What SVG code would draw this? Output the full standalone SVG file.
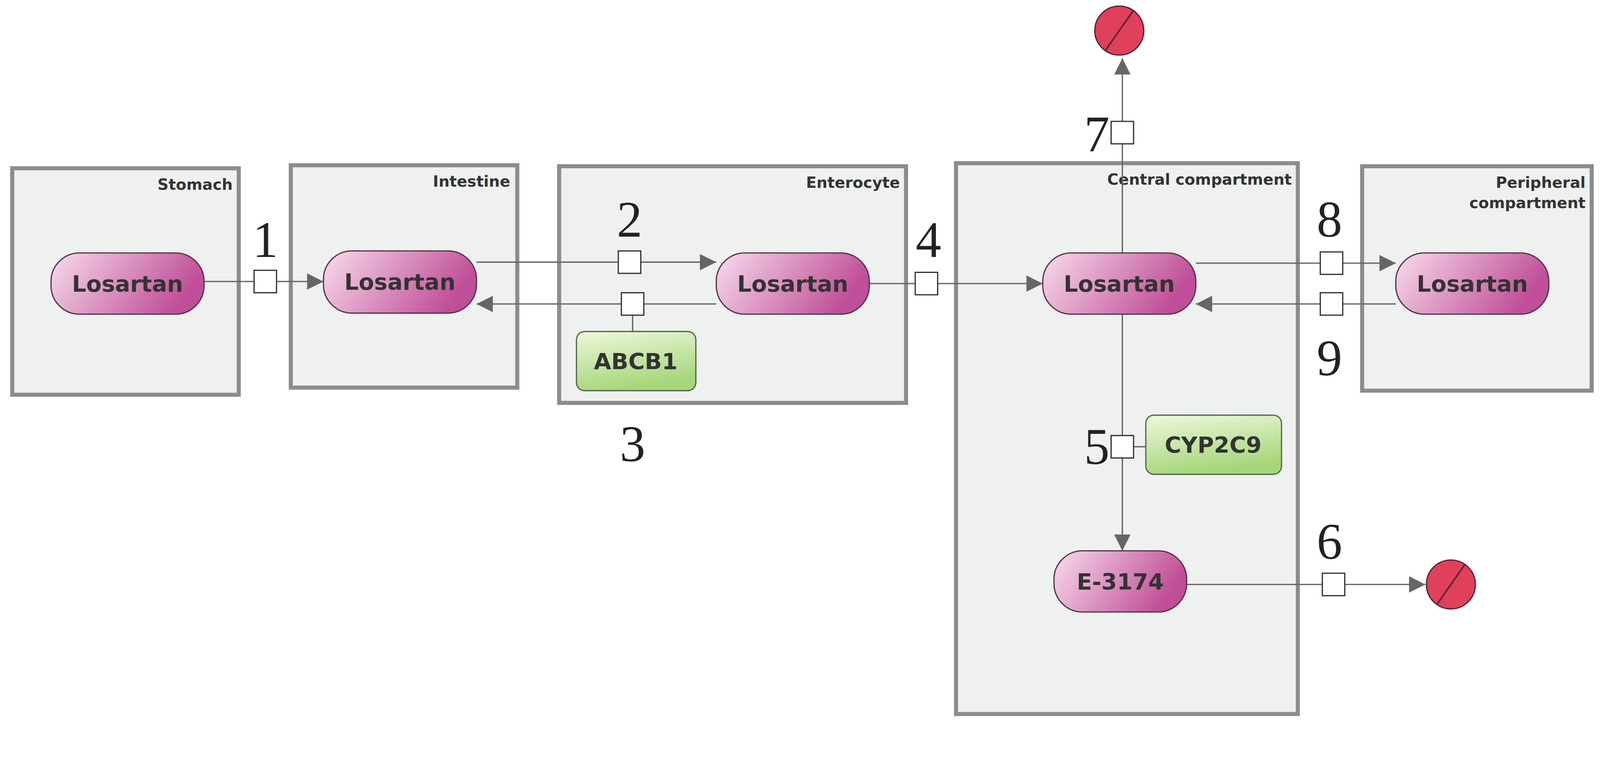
<svg xmlns="http://www.w3.org/2000/svg" width="4305" height="1959" viewBox="0 0 4305 1959">
<defs>
<linearGradient id="pk" x1="0" y1="0" x2="1" y2="0.3"><stop offset="0" stop-color="#f8dcec"/><stop offset="1" stop-color="#c04e98"/></linearGradient>
<linearGradient id="gr" x1="0" y1="0" x2="0.3" y2="1"><stop offset="0" stop-color="#eef8dc"/><stop offset="1" stop-color="#a6d67a"/></linearGradient>
<marker id="ar" viewBox="0 0 10 10" refX="10" refY="5" markerWidth="22" markerHeight="16" markerUnits="userSpaceOnUse" orient="auto"><path d="M0,0L10,5L0,10z" fill="#666"/></marker>
<style>
.comp{fill:#eff0f0;stroke:#8c8c8c;stroke-width:4}
.cl{font-family:"DejaVu Sans",sans-serif;font-weight:bold;font-size:15px;fill:#333;text-anchor:end}
.sp{fill:url(#pk);stroke:#553344;stroke-width:1.2}
.en{fill:url(#gr);stroke:#556644;stroke-width:1.2}
.nt{font-family:"DejaVu Sans",sans-serif;font-weight:bold;font-size:22px;fill:#333;text-anchor:middle}
.ln{stroke:#666;stroke-width:1.3;fill:none}
.ar{marker-end:url(#ar)}
.sq{fill:#fff;stroke:#333;stroke-width:1.2}
.num{font-family:"Liberation Serif",serif;font-size:50px;fill:#222;text-anchor:middle}
.dg{fill:#e0405a;stroke:#552233;stroke-width:1.2}
</style>
</defs>
<g transform="scale(2.612)">
<g id="stomach"><rect class="comp" x="12" y="165" width="222" height="222"/><text class="cl" x="228" y="186">Stomach</text></g>
<g id="intestine"><rect class="comp" x="285" y="162" width="222" height="218"/><text class="cl" x="500" y="183">Intestine</text></g>
<g id="enterocyte"><rect class="comp" x="548" y="163" width="340" height="232"/><text class="cl" x="882" y="184">Enterocyte</text></g>
<g id="central"><rect class="comp" x="937" y="160" width="335" height="540"/><text class="cl" x="1266" y="181">Central compartment</text></g>
<g id="peripheral"><rect class="comp" x="1335" y="163" width="225" height="220"/><text class="cl" x="1554" y="184">Peripheral</text><text class="cl" x="1554" y="204">compartment</text></g>

<g id="connectors">
<line class="ln ar" x1="200" y1="276" x2="317" y2="276"/>
<line class="ln ar" x1="467" y1="257" x2="702" y2="257"/>
<line class="ln ar" x1="702" y1="298" x2="467" y2="298"/>
<line class="ln" x1="620" y1="309" x2="620" y2="325"/>
<line class="ln ar" x1="852" y1="278" x2="1022" y2="278"/>
<line class="ln ar" x1="1100" y1="248" x2="1100" y2="57"/>
<line class="ln ar" x1="1172" y1="258" x2="1368" y2="258"/>
<line class="ln ar" x1="1368" y1="298" x2="1172" y2="298"/>
<line class="ln ar" x1="1100" y1="308" x2="1100" y2="540"/>
<line class="ln" x1="1111" y1="438" x2="1123" y2="438"/>
<line class="ln ar" x1="1163" y1="573" x2="1397" y2="573"/>
<rect class="sq" x="249" y="265" width="22" height="22"/>
<rect class="sq" x="606" y="246" width="22" height="22"/>
<rect class="sq" x="609" y="287" width="22" height="22"/>
<rect class="sq" x="897" y="267" width="22" height="22"/>
<rect class="sq" x="1089" y="119" width="22" height="22"/>
<rect class="sq" x="1294" y="247" width="22" height="22"/>
<rect class="sq" x="1294" y="287" width="22" height="22"/>
<rect class="sq" x="1089" y="427" width="22" height="22"/>
<rect class="sq" x="1296" y="562" width="22" height="22"/>
<text class="num" x="260" y="252">1</text>
<text class="num" x="617" y="232">2</text>
<text class="num" x="620" y="452">3</text>
<text class="num" x="910" y="252">4</text>
<text class="num" x="1075" y="455">5</text>
<text class="num" x="1303" y="548">6</text>
<text class="num" x="1075" y="148">7</text>
<text class="num" x="1303" y="232">8</text>
<text class="num" x="1303" y="368">9</text>
</g>

<g id="los1"><rect class="sp" x="50" y="248" width="150" height="60" rx="28"/><text class="nt" x="125" y="286">Losartan</text></g>
<g id="los2"><rect class="sp" x="317" y="246" width="150" height="61" rx="28"/><text class="nt" x="392" y="284">Losartan</text></g>
<g id="los3"><rect class="sp" x="702" y="248" width="150" height="60" rx="28"/><text class="nt" x="777" y="286">Losartan</text></g>
<g id="los4"><rect class="sp" x="1022" y="248" width="150" height="60" rx="28"/><text class="nt" x="1097" y="286">Losartan</text></g>
<g id="los5"><rect class="sp" x="1368" y="248" width="150" height="60" rx="28"/><text class="nt" x="1443" y="286">Losartan</text></g>
<g id="e3174"><rect class="sp" x="1033" y="540" width="130" height="60" rx="28"/><text class="nt" x="1098" y="578">E-3174</text></g>
<g id="abcb1"><rect class="en" x="565" y="325" width="117" height="58" rx="8"/><text class="nt" x="623" y="362">ABCB1</text></g>
<g id="cyp2c9"><rect class="en" x="1123" y="407" width="133" height="58" rx="8"/><text class="nt" x="1189" y="444">CYP2C9</text></g>
<g id="sink1"><circle class="dg" cx="1097" cy="30" r="24"/><line x1="1083" y1="50" x2="1111" y2="10" stroke="#552233" stroke-width="1.5"/></g>
<g id="sink2"><circle class="dg" cx="1422" cy="573" r="24"/><line x1="1408" y1="593" x2="1436" y2="553" stroke="#552233" stroke-width="1.5"/></g>
</g>
</svg>
